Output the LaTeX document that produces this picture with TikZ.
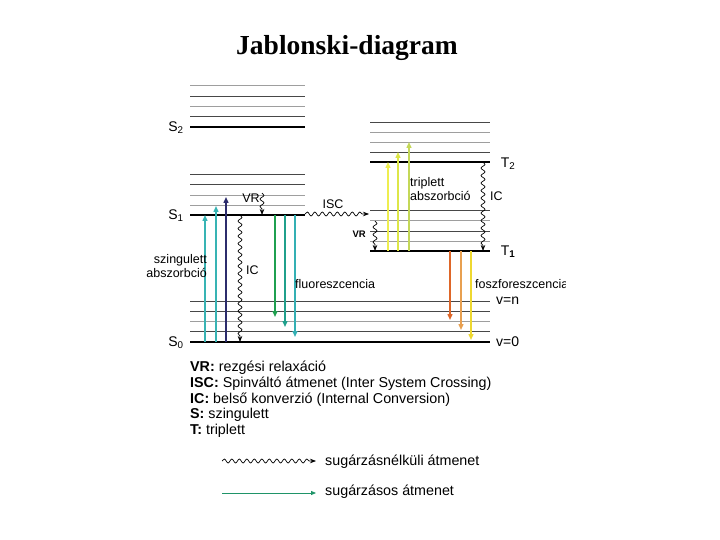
\documentclass[tikz,border=0pt]{standalone}
\usepackage{fontspec}
\setmainfont{Liberation Sans}
\newfontfamily\titlefont{Liberation Serif}
\usetikzlibrary{positioning,arrows.meta,decorations.pathmorphing}
\definecolor{abscyan}{HTML}{38B4B4}
\definecolor{absnavy}{HTML}{2C2C6C}
\definecolor{fluogreen}{HTML}{1FA050}
\definecolor{fluoteal}{HTML}{20A08C}
\definecolor{fluocyan}{HTML}{34B0B4}
\definecolor{tripyellow}{HTML}{EEEE50}
\definecolor{tripmid}{HTML}{DDE648}
\definecolor{triplime}{HTML}{C4D858}
\definecolor{phosred}{HTML}{DE6628}
\definecolor{phosorange}{HTML}{E8A050}
\definecolor{phosyellow}{HTML}{EED830}
\definecolor{legendgreen}{HTML}{1F9468}

\begin{document}
\begin{tikzpicture}[x=1pt,y=-1pt,
    every node/.style={font=\fontsize{12.5}{14.5}\selectfont,inner sep=1pt},
    dark/.style={line width=0.9pt,black!72},
    light/.style={line width=0.8pt,black!38},
    ground/.style={line width=1.8pt,black},
    rad/.style={-{Triangle[length=6pt,width=5pt]},line width=1.4pt},
    nonrad/.style={-{Stealth[length=6pt,width=4.5pt]},line width=0.7pt,black,
                   decorate,decoration={snake,segment length=7.5pt,amplitude=2pt,post length=5pt}},
    lbl/.style={font=\fontsize{14}{16}\selectfont}
]
\useasboundingbox (0,0) rectangle (720,540);

\node[font=\titlefont\bfseries\fontsize{27.5}{32}\selectfont] (title) at (347,48) {Jablonski-diagram};

\draw[light] (190,85) -- (305,85);
\draw[dark]  (190,96) -- (305,96);
\draw[light] (190,106) -- (305,106);
\draw[dark]  (190,116) -- (305,116);
\draw[ground] (190,127) -- (305,127);
\coordinate (s2) at (190,127);

\draw[dark]  (190,174) -- (305,174);
\draw[dark]  (190,184) -- (305,184);
\draw[light] (190,195) -- (305,195);
\draw[light] (190,205) -- (305,205);
\draw[ground] (190,215) -- (305,215);
\coordinate (s1) at (190,215);

\draw[dark]  (190,301) -- (490,301);
\draw[dark]  (190,311) -- (490,311);
\draw[light] (190,321) -- (490,321);
\draw[dark]  (190,331) -- (490,331);
\draw[ground] (190,342) -- (490,342);
\coordinate (s0) at (190,342);

\draw[dark]  (370,122) -- (490,122);
\draw[light] (370,132) -- (490,132);
\draw[light] (370,142) -- (490,142);
\draw[dark]  (370,152) -- (490,152);
\draw[ground] (370,162) -- (490,162);
\coordinate (t2) at (370,162);

\draw[dark]  (370,210) -- (490,210);
\draw[light] (370,220) -- (490,220);
\draw[dark]  (370,231) -- (490,231);
\draw[light] (370,241) -- (490,241);
\draw[ground] (370,251) -- (490,251);
\coordinate (t1) at (370,251);

\node[lbl] (labS2) at (176,128) {S\textsubscript{2}};
\node[lbl] (labS1) at (176,216) {S\textsubscript{1}};
\node[lbl] (labS0) at (176,343) {S\textsubscript{0}};
\node[lbl] (labT2) at (508,164) {T\textsubscript{2}};
\node[lbl] (labT1) at (508,252) {T\textsubscript{\textbf{1}}};
\node[lbl,anchor=west] (labvn) at (495,301) {v=n};
\node[lbl,anchor=west] (labv0) at (495,342) {v=0};

\draw[rad,abscyan] (205,0 |- s0) -- (205,0 |- s1);
\draw[rad,abscyan] (216,0 |- s0) -- (216,206);
\draw[rad,absnavy] (226,0 |- s0) -- (226,197);
\node[align=right,anchor=east] (singabs) at (208,266) {szingulett\\abszorbció};

\draw[nonrad] (262,193) -- (262,0 |- s1);
\node (vrS) at (251,198) {VR};
\draw[nonrad] (240,0 |- s1) -- (240,0 |- s0);
\node[anchor=west] (icS) at (245,270) {IC};

\draw[rad,fluogreen] (275,0 |- s1) -- (275,317);
\draw[rad,fluoteal]  (285,0 |- s1) -- (285,327);
\draw[rad,fluocyan]  (295,0 |- s1) -- (295,337);
\node[anchor=west] (fluo) at (294,284) {fluoreszcencia};

\draw[nonrad] (305,214) -- (369,214);
\node (isc) at (333,204) {ISC};
\draw[nonrad] (375,221) -- (375,0 |- t1);
\node[anchor=east,font=\bfseries\fontsize{9.5}{11}\selectfont] (vrT) at (367,234) {VR};

\draw[rad,tripyellow] (388,0 |- t1) -- (388,0 |- t2);
\draw[rad,tripmid]    (398,0 |- t1) -- (398,152);
\draw[rad,triplime]   (409,0 |- t1) -- (409,142);
\node[align=left,anchor=west] (tripabs) at (409,189) {triplett\\abszorbció};
\draw[nonrad] (483,0 |- t2) -- (483,0 |- t1);
\node[anchor=west] (icT) at (489,196) {IC};

\draw[rad,phosred]    (450,0 |- t1) -- (450,320);
\draw[rad,phosorange] (461,0 |- t1) -- (461,330);
\draw[rad,phosyellow] (471,0 |- t1) -- (471,340);
\begin{scope}
\clip (0,0) rectangle (565,540);
\node[anchor=west] (phos) at (474,284) {foszforeszcencia};
\end{scope}

\node[anchor=north west,align=left,font=\fontsize{14.3}{15.75}\selectfont,inner sep=0pt] (legend) at (190,361)
  {\textbf{VR:} rezgési relaxáció\\
   \textbf{ISC:} Spinváltó átmenet (Inter System Crossing)\\
   \textbf{IC:} belső konverzió (Internal Conversion)\\
   \textbf{S:} szingulett\\
   \textbf{T:} triplett};

\coordinate (wavyA) at (222,461);
\coordinate (wavyB) at (316,461);
\draw[nonrad] (wavyA) -- (wavyB);
\node[anchor=west,font=\fontsize{14.3}{16}\selectfont] (wavytxt) at (324,462) {sugárzásnélküli átmenet};
\coordinate (radA) at (222,493);
\coordinate (radB) at (316,493);
\draw[-{Triangle[length=5pt,width=4pt]},line width=0.8pt,legendgreen] (radA) -- (radB);
\node[anchor=west,font=\fontsize{14.3}{16}\selectfont] (radtxt) at (324,492) {sugárzásos átmenet};
\end{tikzpicture}
\end{document}
